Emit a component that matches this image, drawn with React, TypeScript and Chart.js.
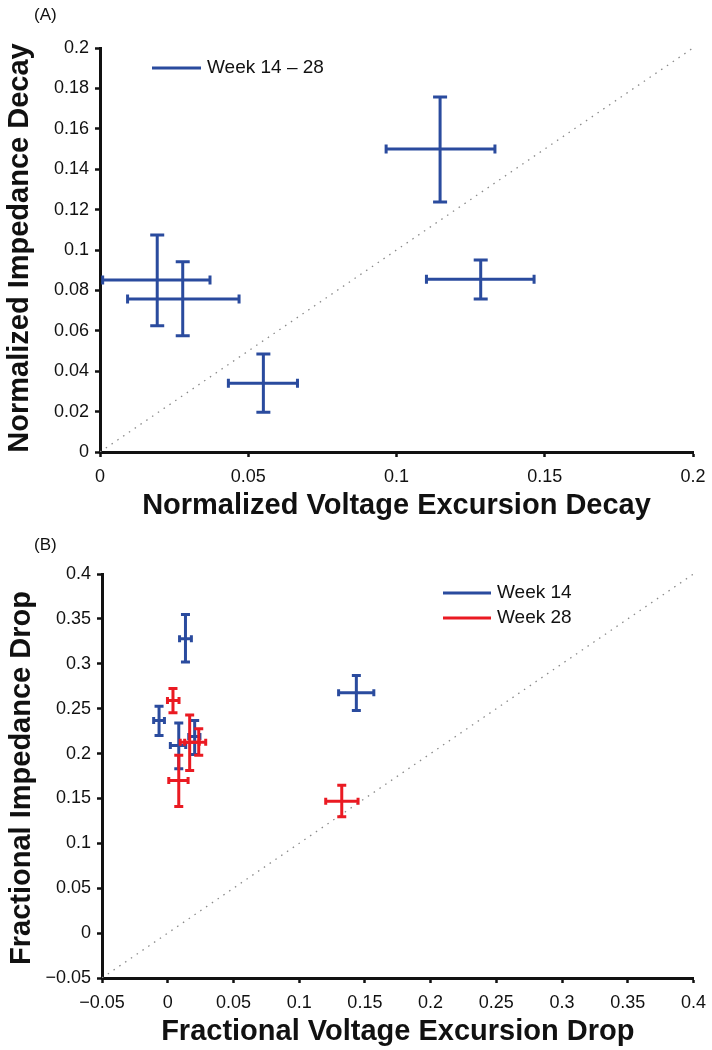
import React, { useEffect, useRef } from 'react';
import { Chart, registerables } from 'chart.js';

Chart.register(...registerables);

const FONT = "'Liberation Sans', Arial, Helvetica, sans-serif";
const BLUE = '#2a4b9e';
const RED = '#ea1a22';

// ---------- Panel A data ----------
const aTickValues = [0, 0.02, 0.04, 0.06, 0.08, 0.1, 0.12, 0.14, 0.16, 0.18, 0.2];
const aTickLabels = ['0', '0.02', '0.04', '0.06', '0.08', '0.1', '0.12', '0.14', '0.16', '0.18', '0.2'];
const aXTickValues = [0, 0.05, 0.1, 0.15, 0.2];
const aXTickLabels = ['0', '0.05', '0.1', '0.15', '0.2'];
const aX = [0.1147, 0.1284, 0.0551, 0.0193, 0.0279];
const aY = [0.15, 0.0855, 0.034, 0.0851, 0.0757];
const aXLow = [0.0965, 0.1101, 0.0433, 0.0009, 0.0093];
const aXHigh = [0.1332, 0.1464, 0.0666, 0.0371, 0.0469];
const aYLow = [0.1238, 0.0757, 0.0197, 0.0625, 0.0576];
const aYHigh = [0.1757, 0.095, 0.0485, 0.1074, 0.0942];
const aDiag = [0, 0.2];

// ---------- Panel B data ----------
const bTickValues = [-0.05, 0, 0.05, 0.1, 0.15, 0.2, 0.25, 0.3, 0.35, 0.4];
const bTickLabels = ['\u22120.05', '0', '0.05', '0.1', '0.15', '0.2', '0.25', '0.3', '0.35', '0.4'];
// Week 14 (blue)
const w14X = [0.0135, -0.0066, 0.0084, 0.0205, 0.1435];
const w14Y = [0.328, 0.2368, 0.209, 0.219, 0.2677];
const w14XLow = [0.009, -0.0107, 0.002, 0.016, 0.13];
const w14XHigh = [0.018, -0.0025, 0.0137, 0.0245, 0.1568];
const w14YLow = [0.302, 0.22, 0.183, 0.199, 0.248];
const w14YHigh = [0.355, 0.2528, 0.234, 0.2368, 0.287];
// Week 28 (red)
const w28X = [0.004, 0.0084, 0.0167, 0.0236, 0.1324];
const w28Y = [0.259, 0.17, 0.2127, 0.2127, 0.1469];
const w28XLow = [-0.0002, 0.0008, 0.0095, 0.0129, 0.1202];
const w28XHigh = [0.0086, 0.0155, 0.024, 0.0289, 0.1448];
const w28YLow = [0.2454, 0.141, 0.181, 0.198, 0.1295];
const w28YHigh = [0.2725, 0.198, 0.243, 0.2276, 0.1647];
const bDiag = [-0.05, 0.4];

const errorBarPlugin = {
  id: 'errorBars',
  afterDatasetsDraw(chart: any, _args: any, opts: any) {
    const { ctx } = chart;
    const xs = chart.scales.x;
    const ys = chart.scales.y;
    chart.data.datasets.forEach((ds: any) => {
      if (!ds.err) return;
      ctx.save();
      ctx.strokeStyle = ds.borderColor;
      ctx.lineWidth = opts.lineWidth;
      ctx.lineCap = 'butt';
      ds.data.forEach((p: any, i: number) => {
        const cx = xs.getPixelForValue(p.x);
        const cy = ys.getPixelForValue(p.y);
        const x0 = xs.getPixelForValue(ds.err.xLow[i]);
        const x1 = xs.getPixelForValue(ds.err.xHigh[i]);
        const y0 = ys.getPixelForValue(ds.err.yLow[i]);
        const y1 = ys.getPixelForValue(ds.err.yHigh[i]);
        ctx.beginPath();
        ctx.moveTo(x0, cy); ctx.lineTo(x1, cy);
        ctx.moveTo(cx, y0); ctx.lineTo(cx, y1);
        ctx.moveTo(cx - opts.capV, y0); ctx.lineTo(cx + opts.capV, y0);
        ctx.moveTo(cx - opts.capV, y1); ctx.lineTo(cx + opts.capV, y1);
        ctx.moveTo(x0, cy - opts.capH); ctx.lineTo(x0, cy + opts.capH);
        ctx.moveTo(x1, cy - opts.capH); ctx.lineTo(x1, cy + opts.capH);
        ctx.stroke();
      });
      ctx.restore();
    });
  },
};

const annotPlugin = {
  id: 'annot',
  afterDraw(chart: any, _args: any, o: any) {
    const { ctx, chartArea: ca } = chart;
    ctx.save();
    ctx.fillStyle = '#111';
    ctx.textBaseline = 'alphabetic';
    ctx.textAlign = 'left';
    ctx.font = `17px ${FONT}`;
    ctx.fillText(o.panel, o.panelX, o.panelY);
    ctx.font = `bold 29px ${FONT}`;
    ctx.textAlign = 'center';
    ctx.fillText(o.xTitle, (ca.left + ca.right) / 2, o.xTitleY);
    ctx.save();
    ctx.translate(o.yTitleX, (ca.top + ca.bottom) / 2 + o.yTitleDy);
    ctx.rotate(-Math.PI / 2);
    ctx.fillText(o.yTitle, 0, 0);
    ctx.restore();
    // legend
    ctx.font = `19px ${FONT}`;
    ctx.textAlign = 'left';
    ctx.textBaseline = 'middle';
    o.legend.forEach((item: any) => {
      ctx.strokeStyle = item.color;
      ctx.lineWidth = 3;
      ctx.beginPath();
      ctx.moveTo(item.x0, item.y);
      ctx.lineTo(item.x1, item.y);
      ctx.stroke();
      ctx.fillStyle = '#111';
      ctx.fillText(item.label, item.x1 + 6, item.y);
    });
    ctx.restore();
  },
};

function axis(min: number, max: number, values: number[], labels: string[], fitSize: number, horizontal: boolean) {
  return {
    type: 'linear',
    min,
    max,
    afterBuildTicks: (s: any) => {
      s.ticks = values.map((v) => ({ value: v }));
    },
    afterFit: (s: any) => {
      if (horizontal) {
        s.height = fitSize;
        s.paddingLeft = 0;
        s.paddingRight = 0;
      } else {
        s.width = fitSize;
        s.paddingTop = 0;
        s.paddingBottom = 0;
      }
    },
    ticks: {
      font: { family: FONT, size: 18 },
      color: '#111',
      padding: horizontal ? 9 : 6,
      maxRotation: 0,
      autoSkip: false,
      callback: (_v: any, i: number) => labels[i],
    },
    grid: {
      display: true,
      drawOnChartArea: false,
      drawTicks: true,
      tickLength: 5,
      tickWidth: 2.5,
      tickColor: '#111',
      color: '#111',
    },
    border: { display: true, color: '#111', width: 3 },
  };
}

function diagDataset(vals: number[]) {
  return {
    label: 'diag',
    data: vals.map((v) => ({ x: v, y: v })),
    showLine: true,
    borderColor: '#8a8a8a',
    borderWidth: 1.3,
    borderDash: [1.5, 5.5],
    pointRadius: 0,
    fill: false,
  };
}

function errDataset(label: string, color: string, xs: number[], ys: number[], xl: number[], xh: number[], yl: number[], yh: number[]) {
  return {
    label,
    data: xs.map((x, i) => ({ x, y: ys[i] })),
    borderColor: color,
    backgroundColor: color,
    pointRadius: 0,
    showLine: false,
    err: { xLow: xl, xHigh: xh, yLow: yl, yHigh: yh },
  };
}

function configA(): any {
  return {
    type: 'scatter',
    data: {
      datasets: [
        diagDataset(aDiag),
        errDataset('Week 14 \u2013 28', BLUE, aX, aY, aXLow, aXHigh, aYLow, aYHigh),
      ],
    },
    options: {
      animation: false,
      responsive: false,
      devicePixelRatio: 1,
      layout: { padding: { top: 48, right: 19, left: 0, bottom: 0 } },
      scales: {
        x: axis(0, 0.2, aXTickValues, aXTickLabels, 73, true),
        y: axis(0, 0.2, aTickValues, aTickLabels, 100, false),
      },
      plugins: {
        legend: { display: false },
        tooltip: { enabled: false },
        errorBars: { lineWidth: 3, capV: 7, capH: 4.5 },
        annot: {
          panel: '(A)', panelX: 34, panelY: 20,
          xTitle: 'Normalized Voltage Excursion Decay', xTitleY: 514,
          yTitle: 'Normalized Impedance Decay', yTitleX: 28, yTitleDy: -2,
          legend: [{ label: 'Week 14 \u2013 28', color: BLUE, x0: 152, x1: 201, y: 68 }],
        },
      },
    },
    plugins: [errorBarPlugin, annotPlugin],
  };
}

function configB(): any {
  return {
    type: 'scatter',
    data: {
      datasets: [
        diagDataset(bDiag),
        errDataset('Week 14', BLUE, w14X, w14Y, w14XLow, w14XHigh, w14YLow, w14YHigh),
        errDataset('Week 28', RED, w28X, w28Y, w28XLow, w28XHigh, w28YLow, w28YHigh),
      ],
    },
    options: {
      animation: false,
      responsive: false,
      devicePixelRatio: 1,
      layout: { padding: { top: 49, right: 18.5, left: 0, bottom: 0 } },
      scales: {
        x: axis(-0.05, 0.4, bTickValues, bTickLabels, 72, true),
        y: axis(-0.05, 0.4, bTickValues, bTickLabels, 102, false),
      },
      plugins: {
        legend: { display: false },
        tooltip: { enabled: false },
        errorBars: { lineWidth: 3, capV: 4.5, capH: 3.5 },
        annot: {
          panel: '(B)', panelX: 34, panelY: 25,
          xTitle: 'Fractional Voltage Excursion Drop', xTitleY: 515,
          yTitle: 'Fractional Impedance Drop', yTitleX: 30, yTitleDy: 2,
          legend: [
            { label: 'Week 14', color: BLUE, x0: 443, x1: 491, y: 68 },
            { label: 'Week 28', color: RED, x0: 443, x1: 491, y: 93 },
          ],
        },
      },
    },
    plugins: [errorBarPlugin, annotPlugin],
  };
}

function Panel({ makeConfig, top, height }: { makeConfig: () => any; top: number; height: number }) {
  const ref = useRef<HTMLCanvasElement>(null);
  useEffect(() => {
    const chart = new Chart(ref.current as HTMLCanvasElement, makeConfig());
    return () => chart.destroy();
  }, [makeConfig]);
  return (
    <canvas
      ref={ref}
      width={712}
      height={height}
      style={{ position: 'absolute', left: 0, top, width: 712, height, display: 'block' }}
    />
  );
}

export default function App() {
  return (
    <div style={{ position: 'absolute', left: 0, top: 0, width: 712, height: 1050, background: '#fff' }}>
      <Panel makeConfig={configA} top={0} height={525} />
      <Panel makeConfig={configB} top={525} height={525} />
    </div>
  );
}
